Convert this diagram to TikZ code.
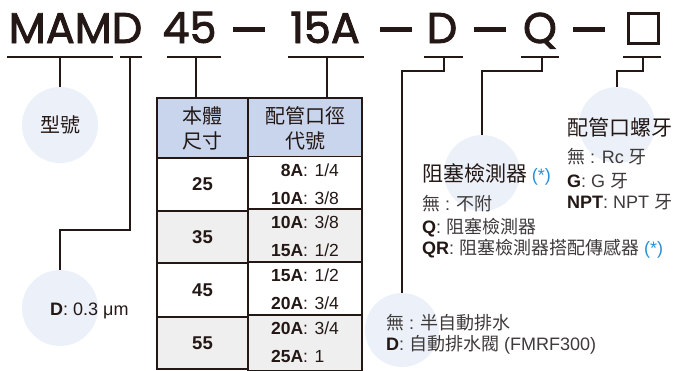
\documentclass[tikz,border=0pt]{standalone}
\usepackage{fontspec}
\setmainfont{Liberation Sans}
\newfontfamily\cjkfont{Noto Sans CJK TC}
\newfontfamily\titlefont{Poppins}[FakeBold=2]
\newcommand\zh[1]{{\cjkfont #1}}
\definecolor{ink}{HTML}{231815}
\definecolor{txt}{HTML}{3E3A39}
\definecolor{bubble}{HTML}{EBF0F9}
\definecolor{headblue}{HTML}{C8D5EC}
\definecolor{rowgray}{HTML}{EFEFEF}
\definecolor{starblue}{HTML}{2A8FD8}
\begin{document}
\begin{tikzpicture}[x=1pt,y=-1pt,
  conn/.style={draw=ink, line width=1.3pt},
  bub/.style={circle, fill=bubble, draw=none, minimum size=76pt, inner sep=0pt},
  codetxt/.style={font=\titlefont\fontsize{43}{43}\selectfont, text=ink, inner sep=0pt, anchor=base},
  codedash/.style={draw=ink, line width=4.5pt},
  cellbox/.style={draw=ink, line width=1.3pt, inner sep=0pt, text=ink},
  head/.style={cellbox, fill=headblue, font=\cjkfont\fontsize{20}{25}\selectfont, align=center},
  numcell/.style={cellbox, font=\bfseries\fontsize{18.5}{18.5}\selectfont},
  valcell/.style={cellbox, font=\fontsize{17.5}{28}\selectfont},
  ttl/.style={font=\cjkfont\fontsize{21}{21}\selectfont, text=ink, inner sep=0pt, anchor=base west},
  lst/.style={font=\fontsize{18}{18}\selectfont, text=txt, inner sep=0pt, anchor=base west},
]
\useasboundingbox (0,0) rectangle (676,370);

% bubbles
\node[bub] (b1) at (60,125) {\cjkfont\fontsize{20}{20}\selectfont\color{ink}型號};
\node[bub] (b2) at (60,308) {};
\node[bub, minimum size=74pt] (b5) at (402,330) {};
\node[bub] (b6) at (482,173) {};
\node[bub] (b7) at (617,125) {};

% code
\node[codetxt] (cMAMD) at (75.5,43) {MAMD};
\node[codetxt] (c45) at (189.5,43) {45};
\node[codetxt] (c15A) at (325,43) {15A};
\node[codetxt] (cD) at (442,43) {D};
\node[codetxt] (cQ) at (540,43) {Q};
\draw[codedash] (233,29.5) -- (265,29.5);
\draw[codedash] (380,29.5) -- (412,29.5);
\draw[codedash] (474,29.5) -- (506,29.5);
\draw[codedash] (573,29.5) -- (605,29.5);
\node[draw=ink, line width=3pt, minimum size=30pt, inner sep=0pt] (cBox) at (643.5,28) {};

% underlines
\draw[conn] (7,57) -- (113,57);
\draw[conn] (120,57) -- (142,57);
\draw[conn] (167,57) -- (221,57);
\draw[conn] (288,57) -- (364,57);
\draw[conn] (424,57) -- (463,57);
\draw[conn] (521,57) -- (559,57);
\draw[conn] (623,57) -- (661,57);
\coordinate (s1) at (60,57);
\coordinate (s2) at (130,57);
\coordinate (s3) at (196,57);
\coordinate (s4) at (327,57);
\coordinate (s5) at (444,57);
\coordinate (s6) at (542,57);
\coordinate (s7) at (643,57);

% table
\node[head, minimum width=91pt, minimum height=60pt] (h1) at (202.5,128) {本體\\尺寸};
\node[head, minimum width=114pt, minimum height=60pt] (h2) at (305,128) {配管口徑\\代號};
\node[numcell, fill=white, minimum width=91pt, minimum height=53pt] (n1) at (202.5,184.5) {25};
\node[valcell, fill=white, minimum width=114pt, minimum height=53pt] (v1) at (305,184.5) {\begin{tabular}{@{}r@{}l@{}}\textbf{8A}&: 1/4\\\textbf{10A}&: 3/8\end{tabular}};
\node[numcell, fill=rowgray, minimum width=91pt, minimum height=52pt] (n2) at (202.5,237) {35};
\node[valcell, fill=rowgray, minimum width=114pt, minimum height=52pt] (v2) at (305,237) {\begin{tabular}{@{}r@{}l@{}}\textbf{10A}&: 3/8\\\textbf{15A}&: 1/2\end{tabular}};
\node[numcell, fill=white, minimum width=91pt, minimum height=54pt] (n3) at (202.5,290) {45};
\node[valcell, fill=white, minimum width=114pt, minimum height=54pt] (v3) at (305,290) {\begin{tabular}{@{}r@{}l@{}}\textbf{15A}&: 1/2\\\textbf{20A}&: 3/4\end{tabular}};
\node[numcell, fill=rowgray, minimum width=91pt, minimum height=52pt] (n4) at (202.5,343) {55};
\node[valcell, fill=rowgray, minimum width=114pt, minimum height=52pt] (v4) at (305,343) {\begin{tabular}{@{}r@{}l@{}}\textbf{20A}&: 3/4\\\textbf{25A}&: 1\end{tabular}};

% connectors
\draw[conn] (s1) -- (b1.north);
\draw[conn] (s2) -- ++(0,173) -| (b2.north);
\draw[conn] (s3) -- (s3 |- h1.north);
\draw[conn] (s4) -- (s4 |- h2.north);
\draw[conn] (s5) -- ++(0,14) -| (b5.north);
\draw[conn] (s6) -- ++(0,14) -| (b6.north);
\draw[conn] (s7) -- ++(0,14) -| (b7.north);

% texts
\node[lst, text=ink] (dtxt) at (50,315) {\textbf{D}: 0.3 μm};

\node[ttl] (qt) at (422,181) {阻塞檢測器 {\rmfamily\fontsize{18}{18}\selectfont\color{starblue}(*)}};
\node[lst] (q1) at (422,210) {\zh{無} : \zh{不附}};
\node[lst] (q2) at (422,233) {\textbf{\color{ink}Q}: \zh{阻塞檢測器}};
\node[lst] (q3) at (422,254) {\textbf{\color{ink}QR}: \zh{阻塞檢測器搭配傳感器} {\color{starblue}(*)}};

\node[ttl] (pt) at (567,135) {配管口螺牙};
\node[lst] (p1) at (567,163) {\zh{無} : Rc \zh{牙}};
\node[lst] (p2) at (567,187) {\textbf{\color{ink}G}: G \zh{牙}};
\node[lst] (p3) at (567,208) {\textbf{\color{ink}NPT}: NPT \zh{牙}};

\node[lst] (d1) at (386,329) {\zh{無} : \zh{半自動排水}};
\node[lst] (d2) at (386,350) {\textbf{\color{ink}D}: \zh{自動排水閥} (FMRF300)};
\end{tikzpicture}
\end{document}
